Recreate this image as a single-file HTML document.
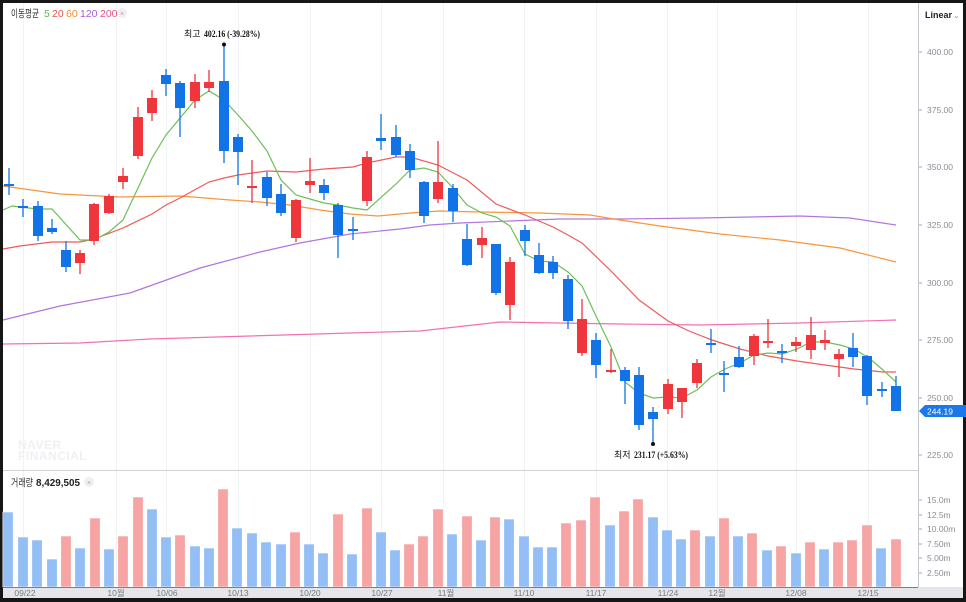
<!DOCTYPE html>
<html><head><meta charset="utf-8">
<style>
html,body{margin:0;padding:0;background:#111;}
body{width:966px;height:602px;overflow:hidden;font-family:"Liberation Sans","Noto Sans CJK KR",sans-serif;}
svg{display:block}
</style></head><body>
<svg id="c" width="966" height="602" viewBox="0 0 966 602" xmlns="http://www.w3.org/2000/svg">
<rect x="0" y="0" width="966" height="602" fill="#161616"/>
<rect x="3" y="3" width="960" height="595" fill="#ffffff"/>
<g stroke="#f1f2f4" stroke-width="1">
<line x1="23.5" y1="3" x2="23.5" y2="587"/><line x1="116.5" y1="3" x2="116.5" y2="587"/>
<line x1="166.5" y1="3" x2="166.5" y2="587"/><line x1="238.5" y1="3" x2="238.5" y2="587"/>
<line x1="310.5" y1="3" x2="310.5" y2="587"/><line x1="381.5" y1="3" x2="381.5" y2="587"/>
<line x1="443.5" y1="3" x2="443.5" y2="587"/><line x1="524.5" y1="3" x2="524.5" y2="587"/>
<line x1="596.5" y1="3" x2="596.5" y2="587"/><line x1="667.5" y1="3" x2="667.5" y2="587"/>
<line x1="717.5" y1="3" x2="717.5" y2="587"/><line x1="796.5" y1="3" x2="796.5" y2="587"/>
<line x1="868.5" y1="3" x2="868.5" y2="587"/>
</g>
<text x="18" y="449" font-size="12" font-weight="bold" fill="#eef0f3" letter-spacing="0.5">NAVER</text>
<text x="18" y="460" font-size="12" font-weight="bold" fill="#eef0f3" letter-spacing="0.5">FINANCIAL</text>
<g id="vol"></g>
<g id="ma" fill="none" stroke-width="1.2">
<polyline stroke="#ee4ea0" opacity="0.8" points="3,344 80,343 150,339 250,336 350,333 420,331 500,322 560,323 620,324 700,325 800,323 896,320"/>
<polyline stroke="#a35ed8" opacity="0.85" points="3,320 60,306 130,293 200,268 260,252 300,243 350,234 400,229 430,225 460,223 510,221 560,219 620,219 700,218 800,216 850,218 896,225"/>
<polyline stroke="#f6963e" points="3,186 60,194 120,197 180,196 230,200 260,202 290,205 320,210 350,214 378,216 410,213 440,211 480,212 540,213 590,215 620,220 660,226 720,234 780,240 840,248 896,262"/>
<polyline stroke="#f05a5a" points="3,249 20,246 52,242 80,242 94,239 123,228 152,214 166,205 180,198 209,182 224,178 238,175 267,171 296,172 324,169 353,167 367,163 396,157 410,157 438,165 467,180 496,204 525,215 553,227 568,235 582,243 611,271 639,300 668,321 689,331 712,340 740,349 768,356 797,361 825,365 854,369 883,372 896,372"/>
<polyline stroke="#6cc05a" points="3,210 12,206 37,209 52,209 80,240 94,240 109,232 123,220 152,158 166,135 195,100 209,91 224,100 238,115 252,131 267,151 281,180 296,195 310,199 324,203 338,205 353,208 367,210 396,184 410,170 424,168 438,172 453,188 467,205 482,213 496,217 510,226 525,254 539,261 553,262 568,272 582,286 596,316 611,347 625,382 639,393 653,398 668,397 682,398 697,390 711,377 725,369 740,363 754,355 768,353 782,354 797,349 811,342 825,342 840,345 854,349 869,358 883,370 896,382"/>
</g>
<g id="cd"></g>
<line x1="3" y1="470.5" x2="918" y2="470.5" stroke="#cfd3d8"/>
<line x1="918.5" y1="3" x2="918.5" y2="598" stroke="#c3c8ce"/>
<rect x="3" y="587" width="960" height="11" fill="#e4e6ea"/>
<line x1="3" y1="587.5" x2="918" y2="587.5" stroke="#7a7f86"/>
<g font-size="8.5" fill="#777b82" text-anchor="middle">
<text x="25" y="596">09/22</text><text x="116" y="596">10월</text><text x="167" y="596">10/06</text>
<text x="238" y="596">10/13</text><text x="310" y="596">10/20</text><text x="382" y="596">10/27</text>
<text x="446" y="596">11월</text><text x="524" y="596">11/10</text><text x="596" y="596">11/17</text>
<text x="668" y="596">11/24</text><text x="717" y="596">12월</text><text x="796" y="596">12/08</text>
<text x="868" y="596">12/15</text>
</g>
<g font-size="8.5" fill="#8a8e95">
<text x="927" y="55">400.00</text><text x="927" y="113">375.00</text><text x="927" y="170">350.00</text>
<text x="927" y="228">325.00</text><text x="927" y="286">300.00</text><text x="927" y="343">275.00</text>
<text x="927" y="401">250.00</text><text x="927" y="458">225.00</text>
<text x="927" y="503">15.0m</text><text x="927" y="518">12.5m</text><text x="927" y="532">10.00m</text>
<text x="927" y="547">7.50m</text><text x="927" y="561">5.00m</text><text x="927" y="576">2.50m</text>
</g>
<g stroke="#a0a5ac">
<line x1="919" y1="52" x2="922" y2="52"/><line x1="919" y1="110" x2="922" y2="110"/><line x1="919" y1="167" x2="922" y2="167"/>
<line x1="919" y1="225" x2="922" y2="225"/><line x1="919" y1="283" x2="922" y2="283"/><line x1="919" y1="340" x2="922" y2="340"/>
<line x1="919" y1="398" x2="922" y2="398"/><line x1="919" y1="455" x2="922" y2="455"/>
<line x1="919" y1="500" x2="922" y2="500"/><line x1="919" y1="515" x2="922" y2="515"/><line x1="919" y1="529" x2="922" y2="529"/>
<line x1="919" y1="544" x2="922" y2="544"/><line x1="919" y1="558" x2="922" y2="558"/><line x1="919" y1="573" x2="922" y2="573"/>
</g>
<polygon points="919,411 925,405 966,405 966,417 925,417" fill="#1a78ea"/>
<text x="927" y="414.5" font-size="8.5" fill="#ffffff">244.19</text>
<text x="925" y="18" font-size="9" font-weight="bold" fill="#222">Linear</text>
<text x="953" y="18" font-size="8" fill="#999">⌄</text>
<g font-size="10.5">
<text x="11" y="17" fill="#333" textLength="28" lengthAdjust="spacingAndGlyphs">이동평균</text>
<text x="44" y="17" fill="#5cb84a">5</text>
<text x="52" y="17" fill="#f05050">20</text>
<text x="66" y="17" fill="#f28a2e">60</text>
<text x="80" y="17" fill="#a35ed8">120</text>
<text x="100" y="17" fill="#ee4e8a">200</text>
<text x="11" y="486" fill="#333" textLength="22" lengthAdjust="spacingAndGlyphs">거래량</text>
<text x="36" y="486" fill="#222" font-weight="bold" textLength="44" lengthAdjust="spacingAndGlyphs">8,429,505</text>
</g>
<circle cx="122" cy="13" r="5" fill="#f0f0f2"/><text x="122" y="16" font-size="7" fill="#aaa" text-anchor="middle">×</text>
<circle cx="89" cy="482" r="5" fill="#f0f0f2"/><text x="89" y="485" font-size="7" fill="#aaa" text-anchor="middle">×</text>
<text x="184" y="37" font-size="9" fill="#111">최고</text>
<text x="204" y="37" font-size="9" fill="#111" font-family="Liberation Serif" font-weight="bold" textLength="56" lengthAdjust="spacingAndGlyphs">402.16 (-39.28%)</text>
<circle cx="224" cy="44.5" r="2" fill="#111"/>
<text x="614" y="458" font-size="9" fill="#111">최저</text>
<text x="634" y="458" font-size="9" fill="#111" font-family="Liberation Serif" font-weight="bold" textLength="54" lengthAdjust="spacingAndGlyphs">231.17 (+5.63%)</text>
<circle cx="653" cy="444" r="2" fill="#111"/>
</svg>
<script>
var B="#1273e6",R="#ef363d";
var C=[[9,184,186,168,195,"b"],[23,206,208,199,217,"b"],[38,206,236,201,241,"b"],[52,228,232,219,234,"b"],[66,250,267,241,272,"b"],[80,253,263,250,274,"r"],[94,204,241,203,245,"r"],[109,196,213,194,214,"r"],[123,176,182,168,189,"r"],[138,117,156,107,159,"r"],[152,98,113,90,121,"r"],[166,75,84,69,96,"b"],[180,83,108,81,137,"b"],[195,82,101,74,108,"r"],[209,82,88,70,92,"r"],[224,81,151,44,163,"b"],[238,137,152,134,185,"b"],[252,186,188,160,203,"r"],[267,177,198,172,206,"b"],[281,194,213,184,216,"b"],[296,200,238,199,242,"r"],[310,181,185,158,193,"r"],[324,185,193,179,200,"b"],[338,205,235,203,258,"b"],[353,229,231,217,240,"b"],[367,157,201,151,206,"r"],[381,138,141,114,150,"b"],[396,137,155,125,157,"b"],[410,151,170,144,178,"b"],[424,182,216,181,223,"b"],[438,182,199,141,203,"r"],[453,188,211,184,222,"b"],[467,239,265,224,266,"b"],[482,238,245,227,258,"r"],[496,244,293,244,295,"b"],[510,262,305,257,320,"r"],[525,230,241,225,256,"b"],[539,255,273,243,274,"b"],[553,262,273,256,279,"b"],[568,279,321,275,329,"b"],[582,319,353,299,356,"r"],[596,340,365,333,378,"b"],[611,370,372,349,373,"r"],[625,370,381,367,404,"b"],[639,375,425,367,430,"b"],[653,412,419,407,443,"b"],[668,384,409,379,414,"r"],[682,388,402,388,418,"r"],[697,363,383,359,388,"r"],[711,343,345,329,353,"b"],[724,373,375,361,392,"b"],[739,357,367,346,368,"b"],[754,336,356,334,365,"r"],[768,341,343,319,348,"r"],[782,351,353,344,363,"b"],[796,342,346,337,352,"r"],[811,335,350,317,359,"r"],[825,340,343,330,350,"r"],[839,354,359,349,377,"r"],[853,348,357,333,367,"b"],[867,356,396,355,405,"b"],[882,389,391,382,397,"b"],[896,386,411,376,411,"b"]];
var V=[[8,512,"b"],[23,537,"b"],[37,540,"b"],[52,559,"b"],[66,536,"r"],[80,548,"b"],[95,518,"r"],[109,549,"b"],[123,536,"r"],[138,497,"r"],[152,509,"b"],[166,537,"b"],[180,535,"r"],[195,546,"b"],[209,548,"b"],[223,489,"r"],[237,528,"b"],[252,533,"b"],[266,542,"b"],[281,544,"b"],[295,532,"r"],[309,544,"b"],[323,553,"b"],[338,514,"r"],[352,554,"b"],[367,508,"r"],[381,532,"b"],[395,550,"b"],[409,544,"r"],[423,536,"r"],[438,509,"r"],[452,534,"b"],[467,516,"r"],[481,540,"b"],[495,517,"r"],[509,519,"b"],[524,536,"b"],[538,547,"b"],[552,547,"b"],[566,523,"r"],[581,520,"r"],[595,497,"r"],[610,525,"b"],[624,511,"r"],[638,499,"r"],[653,517,"b"],[667,530,"b"],[681,539,"b"],[695,530,"r"],[710,536,"b"],[724,518,"r"],[738,536,"b"],[752,533,"r"],[767,550,"b"],[781,546,"r"],[796,553,"b"],[810,542,"r"],[824,549,"b"],[838,542,"r"],[852,540,"r"],[867,525,"r"],[881,548,"b"],[896,539,"r"]];
var ns="http://www.w3.org/2000/svg";
function el(p,t,a){var e=document.createElementNS(ns,t);for(var k in a)e.setAttribute(k,a[k]);p.appendChild(e);}
var vg=document.getElementById("vol"),cg=document.getElementById("cd");
V.forEach(function(v){el(vg,"rect",{x:v[0]-5.2,y:v[1],width:10.4,height:587-v[1],fill:v[2]=="b"?"#8fbbf6":"#f6a0a0",stroke:"#fff",opacity:"0.95","stroke-width":"0.6"});});
C.forEach(function(c){var col=c[5]=="b"?B:R;el(cg,"line",{x1:c[0],x2:c[0],y1:c[3],y2:c[4],stroke:col,"stroke-width":1.3});var h=Math.max(c[2]-c[1],2);el(cg,"rect",{x:c[0]-5,y:c[1],width:10,height:h,fill:col});});
</script>
</body></html>
